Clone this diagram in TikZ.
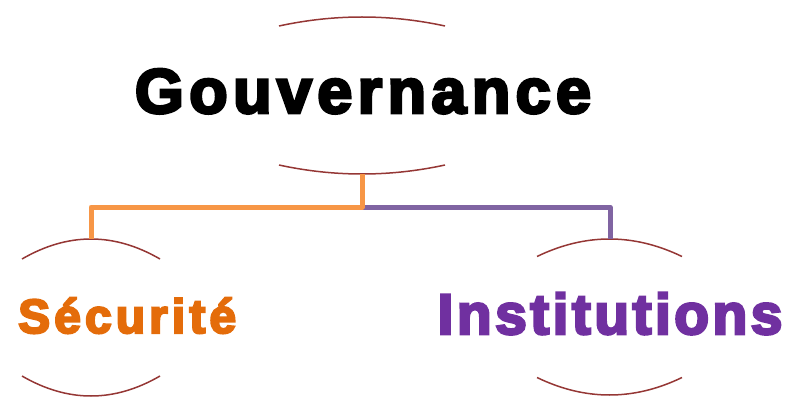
\documentclass[tikz,border=0pt]{standalone}
\usepackage{fontspec}
\setmainfont{Liberation Sans}
\newfontfamily\gouvfont{Liberation Sans Bold}[LetterSpace=8.5, FakeBold=4.5]
\newfontfamily\secufont{Liberation Sans Bold}[LetterSpace=8.5, FakeBold=4.5]
\newfontfamily\instfont{Liberation Sans Bold}[LetterSpace=6, FakeBold=4.5]
\definecolor{secorange}{HTML}{E46C0A}
\definecolor{instpurple}{HTML}{7030A0}
\definecolor{lineorange}{HTML}{F79646}
\definecolor{linepurple}{HTML}{8064A2}
\definecolor{arcred}{HTML}{953735}
\tikzset{
  arcline/.style={draw=arcred, line width=1.5pt},
  branch/.style={line width=5pt, line join=round}
}
\begin{document}
\begin{tikzpicture}[x=1pt,y=-1pt]
                \useasboundingbox (0,0) rectangle (787,401);
                % arcs above and below each title: centre/half width/top/bottom/sag
                \foreach \cx/\hw/\ty/\by/\s in {362/83/17/174/9, 91/69/239/396/20, 609.5/72.5/239/395/17.5} {
                  \draw[arcline] (\cx-\hw,\ty+\s) .. controls (\cx-\hw/3,\ty-\s/3) and (\cx+\hw/3,\ty-\s/3) .. (\cx+\hw,\ty+\s);
                  \draw[arcline] (\cx-\hw,\by-\s) .. controls (\cx-\hw/3,\by+\s/3) and (\cx+\hw/3,\by+\s/3) .. (\cx+\hw,\by-\s);
                }
                \node[anchor=base, inner sep=0pt, font=\gouvfont\fontsize{63}{63}\selectfont] (gouv) at (363,113) {Gouvernance};
                \node[anchor=base west, inner sep=0pt, text=secorange, font=\secufont\fontsize{48}{48}\selectfont] (secu) at (18,333) {Sécurité};
                \node[anchor=base, inner sep=0pt, text=instpurple, font=\instfont\fontsize{57}{57}\selectfont] (inst) at (610,334) {Institutions};
                \coordinate (gouvbot) at (362,174);
                \coordinate (bus) at (362,207);
                \coordinate (secutop) at (91,239);
                \coordinate (insttop) at (610,239);
                \draw[branch, linepurple] (bus) -| (insttop);
                \draw[branch, lineorange] (gouvbot) -- (bus) -| (secutop);
            \end{tikzpicture}
\end{document}
